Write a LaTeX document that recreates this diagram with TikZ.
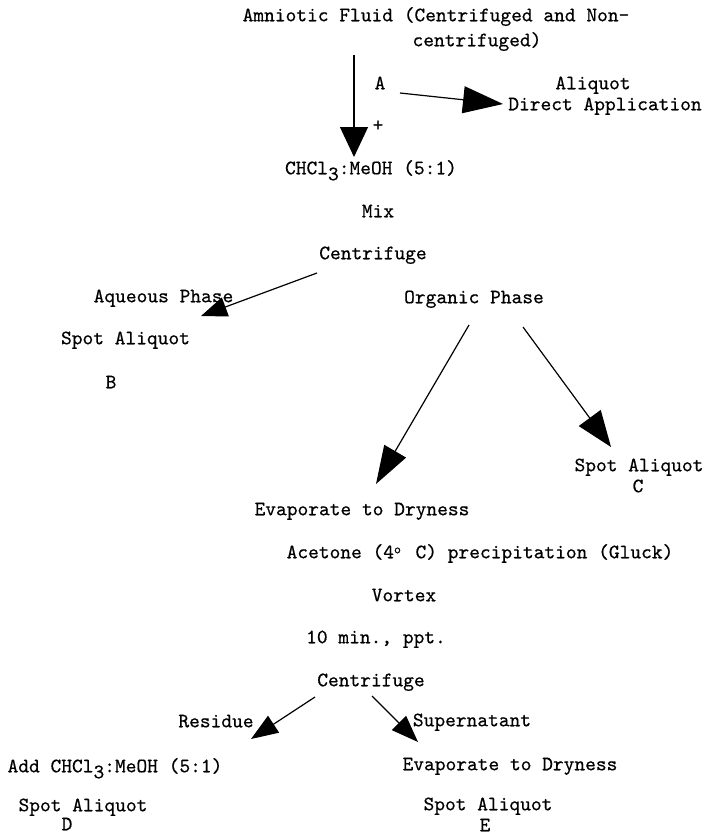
\documentclass[tikz,border=0pt]{standalone}
\usepackage{fontspec}
\setmonofont{lmmono10-regular.otf}[FakeBold=0.5]
\usetikzlibrary{arrows.meta,calc}
\newcommand{\fsz}{\ttfamily\fontsize{20.46}{24}\selectfont}
\newcommand{\subthree}{\raisebox{-6pt}{3}}
\newcommand{\dego}{\makebox[10.74pt][l]{\raisebox{5pt}{\fontsize{13}{13}\selectfont o}}}
\begin{document}
\begin{tikzpicture}[x=1pt,y=-1pt,
  lbl/.style={inner sep=0pt, text height=12.5pt, text depth=0pt, font=\fsz},
  arr/.style 2 args={line width=1.2pt, -{Triangle[length=#1pt,width=#2pt]}}]
\useasboundingbox (0,0) rectangle (708,835);
% texts
\node[lbl] (fluid)  at (436,15)  {Amniotic Fluid (Centrifuged and Non-};
\node[lbl] (fluidb) at (477,40)  {centrifuged)};
\node[lbl] (A)      at (380,83)  {A};
\node[lbl] (plus)   at (378,125) {+};
\node[lbl] (aliq)   at (593,83)  {Aliquot};
\node[lbl] (direct) at (605,104) {Direct Application};
\node[lbl] (chcl)   at (371,168) {CHCl\subthree:MeOH (5:1)};
\node[lbl] (mix)    at (378,211) {Mix};
\node[lbl] (centa)  at (373,253) {Centrifuge};
\node[lbl] (aq)     at (163.5,296) {Aqueous Phase};
\node[lbl] (org)    at (474,297) {Organic Phase};
\node[lbl] (spotB)  at (125.5,338) {Spot Aliquot};
\node[lbl] (B)      at (111,382) {B};
\node[lbl] (spotC)  at (639,465) {Spot Aliquot};
\node[lbl] (C)      at (638,486) {C};
\node[lbl] (evapa)  at (362,509) {Evaporate to Dryness};
\node[lbl] (acet)   at (480,552) {Acetone (4\dego\ C) precipitation (Gluck)};
\node[lbl] (vortex) at (404,595) {Vortex};
\node[lbl] (tenmin) at (376,637) {10 min., ppt.};
\node[lbl] (centb)  at (371,680) {Centrifuge};
\node[lbl] (resid)  at (216,721) {Residue};
\node[lbl] (super)  at (472,720) {Supernatant};
\node[lbl] (addc)   at (115,766) {Add CHCl\subthree:MeOH (5:1)};
\node[lbl] (evapb)  at (510,764) {Evaporate to Dryness};
\node[lbl] (spotD)  at (83,805)  {Spot Aliquot};
\node[lbl] (D)      at (67,824)  {D};
\node[lbl] (spotE)  at (488,804) {Spot Aliquot};
\node[lbl] (E)      at (485,825) {E};
% arrows
\draw[arr={30}{28}] ($(fluid)+(-82,40)$) -- ($(chcl)+(-17,-11)$);
\draw[arr={40}{27}] ($(A)+(20,10)$) -- ($(direct)+(-102,0)$);
\draw[arr={26}{20}] ($(centa)+(-56,20)$) -- ($(aq)+(37.5,20)$);
\draw[arr={38}{25}] ($(org)+(-5,28)$) -- ($(evapa)+(14,-25)$);
\draw[arr={36}{27}] ($(org)+(49,30)$) -- ($(spotC)+(-28,-18)$);
\draw[arr={27}{20}] ($(centb)+(-56,17)$) -- ($(addc)+(136,-27)$);
\draw[arr={27}{20}] ($(centb)+(1,16)$) -- ($(evapb)+(-92,-22)$);
\end{tikzpicture}
\end{document}
